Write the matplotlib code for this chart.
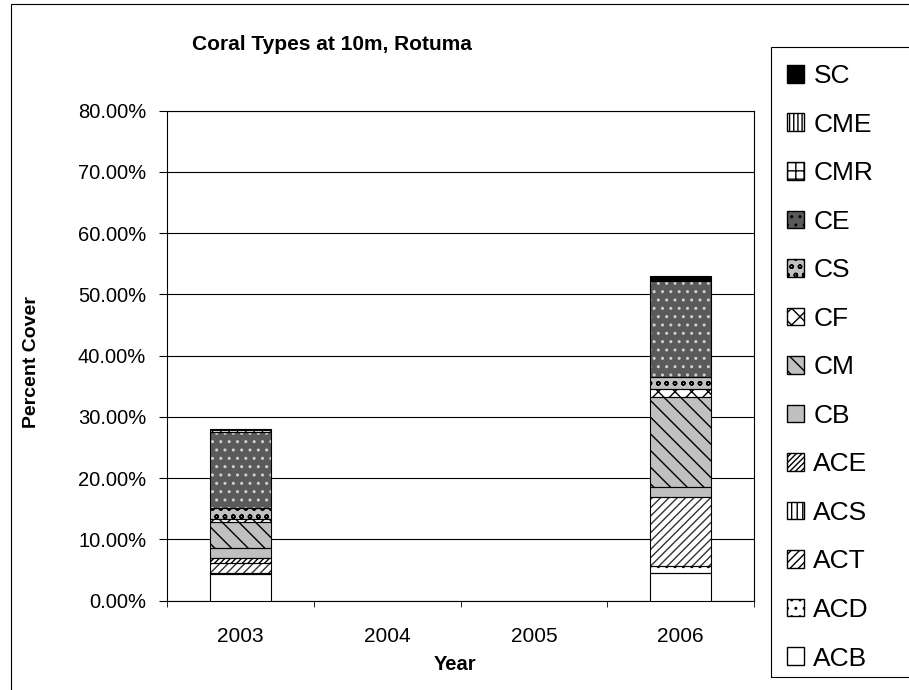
import matplotlib.pyplot as plt
import numpy as np
from matplotlib.patches import Patch, Rectangle

plt.rcParams["font.family"] = ["Liberation Sans", "DejaVu Sans"]

years = ["2003", "2004", "2005", "2006"]
types = ["ACB", "ACD", "ACT", "ACS", "ACE", "CB", "CM", "CF", "CS", "CE", "CMR", "CME", "SC"]

# percent cover per type, one list per year (2004 and 2005 empty)
y2003 = [4.3, 0.2, 1.7, 0.0, 0.8, 1.6, 4.3, 0.5, 1.7, 12.5, 0.2, 0.0, 0.2]
y2004 = [0.0] * 13
y2005 = [0.0] * 13
y2006 = [4.6, 1.1, 11.3, 0.0, 0.0, 1.6, 14.6, 1.3, 2.1, 15.6, 0.0, 0.0, 0.8]

# face colour, hatch, hatch colour
styles = {
    "ACB": ("white", "", "black"),
    "ACD": ("white", "..", "black"),
    "ACT": ("white", "////", "#333333"),
    "ACS": ("white", "|||", "black"),
    "ACE": ("white", "//////", "black"),
    "CB": ("#c0c0c0", "", "black"),
    "CM": ("#c0c0c0", "\\\\", "black"),
    "CF": ("white", "xx", "black"),
    "CS": ("#c0c0c0", "oo", "black"),
    "CE": ("#5a5a5a", "..", "#d0d0d0"),
    "CMR": ("white", "++", "black"),
    "CME": ("white", "||||", "black"),
    "SC": ("black", "", "black"),
}

data = np.array([y2003, y2004, y2005, y2006]) / 100.0
x = np.arange(len(years))
width = 0.416

W, H = 909, 690
fig = plt.figure(figsize=(W / 100, H / 100), dpi=100)
# outer chart border (right/bottom fall outside the picture)
fig.patches.append(Rectangle((10.5 / W, -0.05), 1.0, 1 - 4 / H + 0.05,
                             transform=fig.transFigure, fill=False,
                             edgecolor="black", linewidth=0.8))
ax = fig.add_axes([167 / W, 1 - 600.7 / H, 587 / W, 490 / H])

bottom = np.zeros(len(years))
for i, t in enumerate(types):
    fc, h, hc = styles[t]
    vals = data[:, i]
    keep = vals > 0
    if keep.any():
        ax.bar(x[keep], vals[keep], width, bottom=bottom[keep], color=fc, hatch=h,
               edgecolor=hc, linewidth=0, zorder=3)
        ax.bar(x[keep], vals[keep], width, bottom=bottom[keep], fill=False,
               edgecolor="black", linewidth=0.8, zorder=4)
    bottom += vals

ax.set_xlim(-0.5, 3.5)
ax.set_ylim(0, 0.8)
ax.set_yticks(np.arange(0, 0.81, 0.1))
ax.set_yticklabels([f"{v*100:.2f}%" for v in np.arange(0, 0.81, 0.1)], fontsize=14.5)
ax.set_xticks(x)
ax.set_xticklabels(years, fontsize=15)
ax.set_xticks(np.arange(-0.5, 3.6, 1), minor=True)
ax.tick_params(axis="x", which="major", length=0, pad=19)
ax.tick_params(axis="x", which="minor", length=4, direction="out")
ax.tick_params(axis="y", length=6, direction="out", pad=9)
ax.yaxis.grid(True, color="black", linewidth=0.8, zorder=0)
ax.set_axisbelow(True)
for s in ax.spines.values():
    s.set_linewidth(0.8)

fig.text(192 / W, 1 - 44 / H, "Coral Types at 10m, Rotuma", fontsize=15,
         fontweight="bold", ha="left", va="center")
fig.text(455 / W, 1 - 664 / H, "Year", fontsize=14.5, fontweight="bold",
         ha="center", va="center")
fig.text(31 / W, 1 - 362 / H, "Percent Cover", fontsize=14, fontweight="bold",
         ha="center", va="center", rotation=90)

handles = []
for t in types[::-1]:
    fc, h, hc = styles[t]
    handles.append(Patch(facecolor=fc, hatch=h, edgecolor="black", label=t))
fig.patches.append(Rectangle((770.5 / W, 1 - 676.5 / H), 0.2, 629.5 / H,
                             transform=fig.transFigure, fill=False,
                             edgecolor="black", linewidth=0.8))
leg = fig.legend(handles=handles, loc="upper left",
                 bbox_to_anchor=(787 / W, 1 - 64 / H),
                 fontsize=19, frameon=False, labelspacing=0.93, handlelength=0.65,
                 handleheight=0.65, handletextpad=0.35, borderpad=0, borderaxespad=0)

fig.savefig("out.png", dpi=100)
